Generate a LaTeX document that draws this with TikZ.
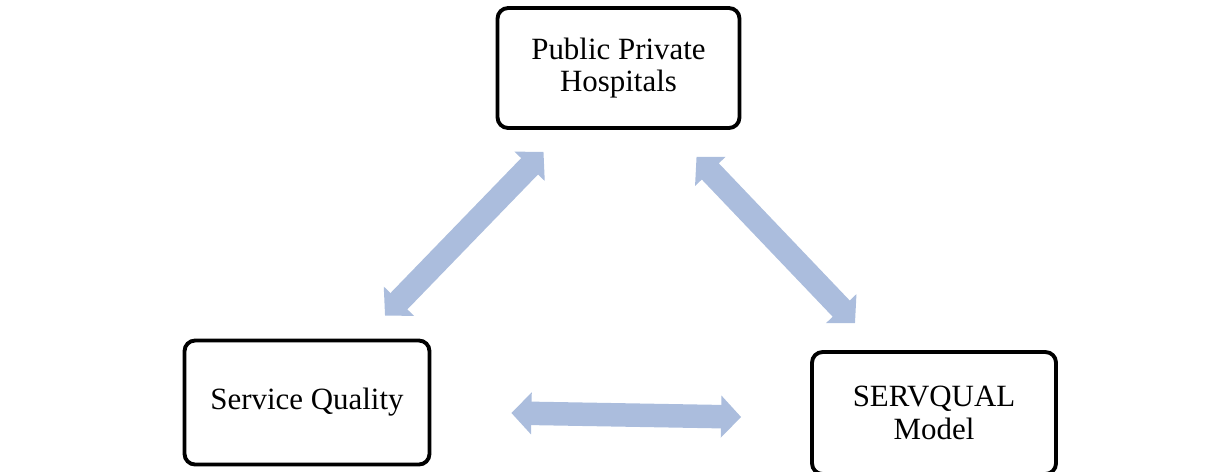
\documentclass[tikz,border=0pt]{standalone}
\usepackage{fontspec}
\setmainfont{Liberation Serif}
\usepackage{tikz}
\usetikzlibrary{arrows.meta}
\usepackage{xcolor}
\definecolor{linkblue}{RGB}{171,189,221}

\begin{document}
\begin{tikzpicture}[x=0.02cm,y=0.02cm,
  box/.style={draw, line width=2.2pt, rounded corners=6pt, align=center,
    font=\fontsize{17.6}{18.6}\selectfont},
  link/.style={draw=linkblue, line width=0.47cm,
    >={Triangle[width=0.82cm,length=0.4cm]}, <->}]
\useasboundingbox (0,0) rectangle (1222,-471);
\clip (0,0) rectangle (1222,-471);
\node[box, minimum width=4.84cm, minimum height=2.4cm] (pub) at (618.5,-68) {Public Private\\Hospitals};
\node[box, minimum width=4.9cm, minimum height=2.48cm] (sq) at (307,-402.5) {Service Quality};
\node[box, minimum width=4.88cm, minimum height=2.44cm] (sm) at (934,-413) {SERVQUAL\\Model};
\draw[link] ([shift={(-75,-22)}]pub.south) -- ([shift={(78,23)}]sq.north);
\draw[link] ([shift={(78,-27)}]pub.south) -- ([shift={(-79,27)}]sm.north);
\draw[link] ([shift={(80,-10.5)}]sq.east) -- ([shift={(-69,-4)}]sm.west);
\end{tikzpicture}
\end{document}
